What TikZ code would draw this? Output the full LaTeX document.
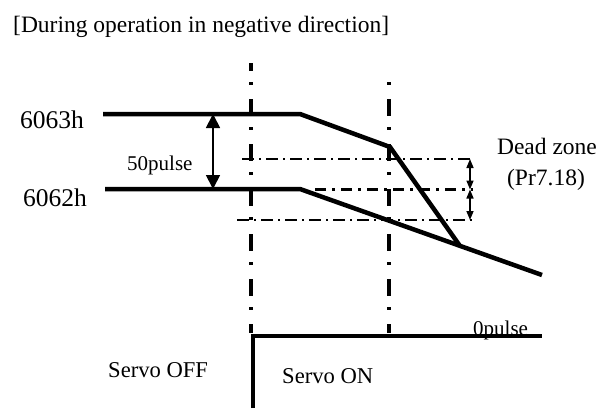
\documentclass[tikz,border=0pt]{standalone}
\usepackage{fontspec}
\setmainfont{Liberation Serif}
\usetikzlibrary{arrows.meta}
\begin{document}
\begin{tikzpicture}[x=1pt,y=-1pt,
  thickline/.style={line width=4.5pt,line join=miter},
  vdashdot/.style={line width=3.5pt,dash pattern=on 17pt off 11pt on 3pt off 14pt},
  hdashdot/.style={line width=1.6pt,dash pattern=on 12pt off 5pt on 2pt off 5pt},
  mdashdot/.style={line width=2.6pt,dash pattern=on 11pt off 6pt on 3pt off 6pt},
  bigarrow/.style={line width=1.8pt,{Triangle[width=14pt,length=14pt]}-{Triangle[width=14pt,length=14pt]}},
  smallarrow/.style={line width=1.5pt,{Triangle[width=7pt,length=9pt]}-{Triangle[width=7pt,length=9pt]}},
  lbl/.style={inner sep=0pt,anchor=base west},
  lblc/.style={inner sep=0pt,anchor=base},
  fa/.style={font=\fontsize{23.5}{27}\selectfont},
  fb/.style={font=\fontsize{21}{25}\selectfont},
  fc/.style={font=\fontsize{25.5}{29}\selectfont},
  fd/.style={font=\fontsize{22.6}{26}\selectfont}]
\useasboundingbox (0,0) rectangle (614,408);
% coordinates
\coordinate (a1) at (103,114);
\coordinate (a2) at (300,114);
\coordinate (a3) at (390,147);
\coordinate (a4) at (460,246);
\coordinate (b1) at (105,189);
\coordinate (b2) at (300,189);
\coordinate (b3) at (542,275);
\coordinate (s1) at (253,408);
\coordinate (s2) at (253,336);
\coordinate (s3) at (542,336);
\coordinate (v1t) at (251,63);
\coordinate (v1b) at (251,333);
\coordinate (v2t) at (389,82);
\coordinate (v2b) at (389,333);
\coordinate (h1l) at (242,159);
\coordinate (h1r) at (473,159);
\coordinate (h2l) at (315,189.5);
\coordinate (h2r) at (473,189.5);
\coordinate (h3l) at (237,220);
\coordinate (h3r) at (473,220);
\coordinate (p1) at (213,114);
\coordinate (p2) at (213,189);
\coordinate (d1) at (470,159);
\coordinate (d2) at (470,189.5);
\coordinate (d3) at (470,220);
% dash-dot guides
\draw[vdashdot,dash phase=9pt] (v1t) -- (v1b);
\draw[vdashdot,dash phase=28pt] (v2t) -- (v2b);
\draw[hdashdot] (h1l) -- (h1r);
\draw[mdashdot] (h2l) -- (h2r);
\draw[hdashdot] (h3l) -- (h3r);
% main lines
\draw[thickline] (a1) -- (a2) -- (a3) -- (a4);
\draw[thickline] (b1) -- (b2) -- (b3);
\draw[thickline] (s1) -- (s2) -- (s3);
% arrows
\draw[bigarrow] (p1) -- (p2);
\draw[smallarrow] (d1) -- (d2);
\draw[smallarrow] (d2) -- (d3);
% texts
\node[lbl,fa] (title) at (13,32) {[During operation in negative direction]};
\node[lbl,fc] (l6063) at (20,128) {6063h};
\node[lbl,fc] (l6062) at (23,206) {6062h};
\node[lbl,fb] (l50) at (127,170) {50pulse};
\node[lblc,fa] (dz) at (547,154) {Dead zone};
\node[lblc,fa] (pr) at (546,185) {(Pr7.18)};
\node[lbl,fd] (soff) at (108,377) {Servo OFF};
\node[lbl,fd] (son) at (282,383) {Servo ON};
\node[lbl,fb] (zp) at (473,335) {0pulse};
\end{tikzpicture}
\end{document}
